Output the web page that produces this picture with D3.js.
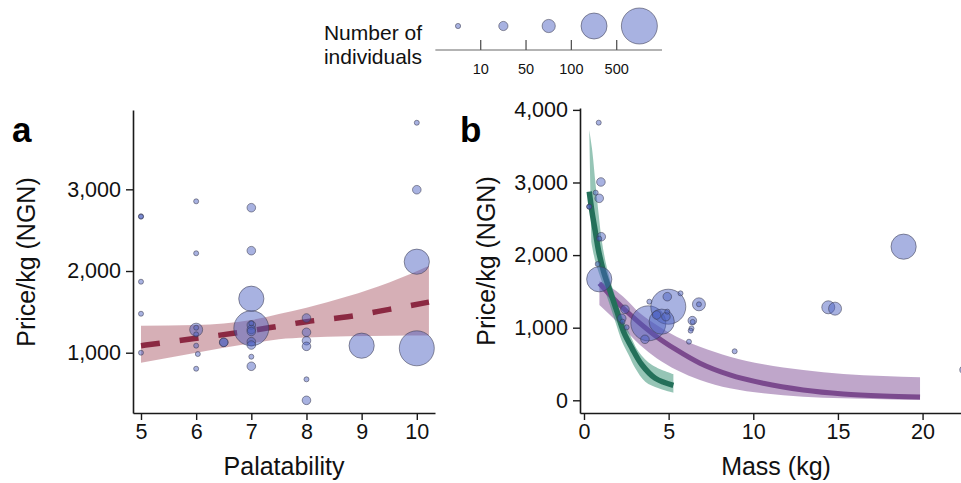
<!DOCTYPE html>
<html>
<head>
<meta charset="utf-8">
<script src="https://cdn.jsdelivr.net/npm/d3@7"></script>
<style>
  html, body { margin: 0; padding: 0; background: #fff; }
  svg { display: block; font-family: "Liberation Sans", Arial, Helvetica, sans-serif; }
</style>
</head>
<body>
<svg id="chart" width="961" height="483"></svg>
<script>
// ---------------- DATA ----------------
// Size classes (bins of number of individuals): 0 = <10, 1 = 10-50, 2 = 50-100, 3 = 100-500, 4 = >500
const legendBreaks = ["10", "50", "100", "500"];
const legendClasses = [0, 1, 2, 3, 4];

// Panel a: palatability vs price
const palX     = [5, 5, 5, 5, 5,
                  6, 6, 6, 6, 6, 6, 6.03, 6,
                  6.5, 6.5,
                  7, 7, 7, 7, 7, 7, 7, 7, 7, 7, 7, 7,
                  8, 8, 8, 8, 8, 8,
                  9,
                  10, 10, 10, 10];
const palPrice = [2670, 2665, 1869, 1477, 1000,
                  2853, 2217, 1282, 1306, 1225, 1086, 984, 804,
                  1127, 1127,
                  2775, 2249, 1661, 1299, 1360, 1339, 1285, 1260, 1135, 1094, 951, 834,
                  1425, 1250, 1147, 1078, 674, 417,
                  1086,
                  3815, 2995, 2114, 1054];
const palSize  = [0, 0, 0, 0, 0,
                  0, 0, 2, 0, 0, 0, 0, 0,
                  1, 1,
                  1, 1, 3, 4, 0, 1, 1, 1, 1, 1, 0, 1,
                  1, 1, 1, 1, 0, 1,
                  3,
                  0, 1, 3, 4];
const palFitX  = [5, 6, 7, 7.5, 8, 8.75, 9.5, 10.22];
const palFit   = [1086, 1176, 1270, 1325, 1380, 1441, 1530, 1620];
const palUpper = [1331, 1339, 1400, 1475, 1550, 1690, 1860, 2065];
const palLower = [878, 1000, 1115, 1165, 1185, 1200, 1207, 1210];
const palXTicks = [5, 6, 7, 8, 9, 10];
const palYTicks = [1000, 2000, 3000];

// Panel b: mass vs price
const massX     = [0.87, 1.0, 0.69, 0.9, 0.31, 0.31, 1.02, 0.9, 0.81, 0.9,
                   2.42, 2.23, 2.28, 2.52,
                   3.86, 3.8, 3.6,
                   4.98, 4.92, 5.7, 4.59, 4.29, 4.84, 4.92,
                   6.79, 6.79, 6.4, 6.42, 6.35, 6.3, 6.2,
                   8.9,
                   14.43, 14.83,
                   18.88,
                   22.45];
const massPrice = [3824, 3007, 2860, 2782, 2667, 2667, 2253, 2226, 1877, 1667,
                   1253, 1129, 1083, 1005,
                   1358, 1060, 840,
                   1289, 1427, 1473, 1083, 1175, 1152, 1221,
                   1322, 1322, 1097, 1080, 990, 959, 807,
                   675,
                   1281, 1262,
                   2116,
                   420];
const massSize  = [0, 1, 0, 1, 0, 0, 1, 0, 0, 3,
                   1, 1, 0, 0,
                   0, 4, 1,
                   4, 1, 0, 3, 1, 1, 0,
                   2, 0, 1, 0, 0, 0, 0,
                   0,
                   2, 2,
                   3,
                   1];
// green fit (steep) with its ribbon
const greenFitX   = [0.31, 0.47, 0.67, 0.87, 1.16, 1.55, 1.95, 2.34, 2.84, 3.43, 4.21, 5.28];
const greenFit    = [2873, 2598, 2323, 2048, 1771, 1496, 1220, 945, 716, 486, 303, 205];
const greenUpperX = [0.31, 0.47, 0.67, 0.87, 1.06, 1.36, 1.75, 2.14, 2.64, 3.23, 4.02, 5.28];
const greenUpper  = [3723, 3471, 3011, 2553, 2185, 1818, 1496, 1221, 945, 670, 486, 360];
const greenLowerX = [0.43, 0.67, 1.06, 1.46, 1.85, 2.25, 2.64, 3.03, 3.62, 4.41, 5.28];
const greenLower  = [2184, 1909, 1634, 1358, 1083, 808, 625, 441, 257, 165, 105];
// purple fit with its ribbon
const purpleX     = [0.91, 1.54, 2.32, 3.31, 4.29, 5.47, 6.85, 8.62, 10.59, 12.95, 15.32, 17.68, 19.85];
const purpleFit   = [1611, 1450, 1267, 1060, 876, 693, 510, 349, 234, 142, 87, 59, 45];
const purpleUpper = [1640, 1565, 1427, 1198, 1037, 876, 738, 601, 496, 417, 362, 335, 317];
const purpleLower = [1313, 1175, 992, 762, 579, 417, 280, 165, 96, 50, 28, 14, 4];
const massXTicks = [0, 5, 10, 15, 20];
const massYTicks = [0, 1000, 2000, 3000, 4000];

// ---------------- STYLE ----------------
const AXIS = "#1a1a1a";
const PT_FILL = "#4a5fc1", PT_OP = 0.48, PT_STROKE = "rgba(60,60,80,0.55)";
const fmt = d3.format(",");
const rScale = d3.scaleOrdinal().domain([0, 1, 2, 3, 4]).range([2.5, 4.3, 6.5, 12.6, 17.5]);
const TICK_FS = "21.5px";

const svg = d3.select("#chart");

function yAxisDraw(g, y, ticks, x0) {
  const ax = d3.axisLeft(y).tickValues(ticks).tickFormat(fmt).tickSize(7).tickPadding(5).tickSizeOuter(0);
  const gg = g.append("g").attr("transform", `translate(${x0},0)`).call(ax);
  gg.select(".domain").attr("stroke", AXIS).attr("stroke-width", 1.6);
  gg.selectAll(".tick line").attr("stroke", AXIS).attr("stroke-width", 1.4);
  gg.selectAll(".tick text").attr("fill", "#111").style("font-size", TICK_FS).style("font-family", "Liberation Sans, Arial, sans-serif");
  return gg;
}
function xAxisDraw(g, x, ticks, y0) {
  const ax = d3.axisBottom(x).tickValues(ticks).tickFormat(d3.format("d")).tickSize(7).tickPadding(4).tickSizeOuter(0);
  const gg = g.append("g").attr("transform", `translate(0,${y0})`).call(ax);
  gg.select(".domain").attr("stroke", AXIS).attr("stroke-width", 1.6);
  gg.selectAll(".tick line").attr("stroke", AXIS).attr("stroke-width", 1.4);
  gg.selectAll(".tick text").attr("fill", "#111").style("font-size", TICK_FS).style("font-family", "Liberation Sans, Arial, sans-serif");
  return gg;
}
function drawPoints(g, xs, ys, ss, x, y) {
  const pts = xs.map((v, i) => ({ x: v, y: ys[i], s: ss[i] }))
                .sort((a, b) => b.s - a.s);
  g.append("g").selectAll("circle").data(pts).join("circle")
    .attr("cx", d => x(d.x)).attr("cy", d => y(d.y)).attr("r", d => rScale(d.s))
    .attr("fill", PT_FILL).attr("fill-opacity", PT_OP)
    .attr("stroke", PT_STROKE).attr("stroke-width", 1);
}

// ---------------- PANEL A ----------------
const xa = d3.scaleLinear().domain([4.855, 10.33]).range([133, 435]);
const ya = d3.scaleLinear().domain([262, 3971]).range([413, 110]);
const ga = svg.append("g");

ga.append("path")
  .datum(palFitX.map((v, i) => ({ x: v, lo: palLower[i], hi: palUpper[i] })))
  .attr("d", d3.area().x(d => xa(d.x)).y0(d => ya(d.lo)).y1(d => ya(d.hi)).curve(d3.curveMonotoneX))
  .attr("fill", "#a44d5e").attr("fill-opacity", 0.45);
ga.append("path")
  .datum(palFitX.map((v, i) => ({ x: v, y: palFit[i] })))
  .attr("d", d3.line().x(d => xa(d.x)).y(d => ya(d.y)).curve(d3.curveMonotoneX))
  .attr("fill", "none").attr("stroke", "#8b2942").attr("stroke-width", 5.5)
  .attr("stroke-dasharray", "19,20");
drawPoints(ga, palX, palPrice, palSize, xa, ya);
yAxisDraw(ga, ya, palYTicks, 133);
xAxisDraw(ga, xa, palXTicks, 413);

ga.append("text").attr("x", 284).attr("y", 475).attr("text-anchor", "middle")
  .style("font-size", "25px").attr("fill", "#111").text("Palatability");
ga.append("text").attr("transform", "translate(35,262) rotate(-90)").attr("text-anchor", "middle")
  .style("font-size", "25px").attr("fill", "#111").text("Price/kg (NGN)");
ga.append("text").attr("x", 12).attr("y", 141.5).style("font-size", "35px").style("font-weight", "bold")
  .attr("fill", "#000").text("a");

// ---------------- PANEL B ----------------
const xb = d3.scaleLinear().domain([-0.236, 22.27]).range([580, 961]);
const yb = d3.scaleLinear().domain([-175, 4026]).range([413, 108]);
const gb = svg.append("g");

// purple ribbon
gb.append("path")
  .datum(purpleX.map((v, i) => ({ x: v, lo: purpleLower[i], hi: purpleUpper[i] })))
  .attr("d", d3.area().x(d => xb(d.x)).y0(d => yb(d.lo)).y1(d => yb(d.hi)).curve(d3.curveMonotoneX))
  .attr("fill", "#8a5c9e").attr("fill-opacity", 0.55);
// green ribbon (upper and lower edges read separately)
const lineB = d3.line().x(d => xb(d[0])).y(d => yb(d[1])).curve(d3.curveCatmullRom.alpha(0.5));
const gUp = greenUpperX.map((v, i) => [v, greenUpper[i]]);
const gLo = greenLowerX.map((v, i) => [v, greenLower[i]]).reverse();
gb.append("path")
  .attr("d", lineB(gUp) + "L" + lineB(gLo).slice(1) + "Z")
  .attr("fill", "#2e8b6e").attr("fill-opacity", 0.5);
gb.append("path")
  .datum(purpleX.map((v, i) => [v, purpleFit[i]]))
  .attr("d", d3.line().x(d => xb(d[0])).y(d => yb(d[1])).curve(d3.curveMonotoneX))
  .attr("fill", "none").attr("stroke", "#7b4a8e").attr("stroke-width", 5);
gb.append("path")
  .datum(greenFitX.map((v, i) => [v, greenFit[i]]))
  .attr("d", lineB)
  .attr("fill", "none").attr("stroke", "#24705a").attr("stroke-width", 5.5);

drawPoints(gb, massX, massPrice, massSize, xb, yb);
yAxisDraw(gb, yb, massYTicks, 580);
xAxisDraw(gb, xb, massXTicks, 413);

gb.append("text").attr("x", 776).attr("y", 475).attr("text-anchor", "middle")
  .style("font-size", "25px").attr("fill", "#111").text("Mass (kg)");
gb.append("text").attr("transform", "translate(495,261) rotate(-90)").attr("text-anchor", "middle")
  .style("font-size", "25px").attr("fill", "#111").text("Price/kg (NGN)");
gb.append("text").attr("x", 460).attr("y", 141.5).style("font-size", "35px").style("font-weight", "bold")
  .attr("fill", "#000").text("b");

// ---------------- LEGEND ----------------
const xl = d3.scaleLinear().domain([0, 3]).range([480.7, 616.7]);
const gl = svg.append("g");
gl.append("line").attr("x1", xl(-1)).attr("x2", xl(4)).attr("y1", 50).attr("y2", 50)
  .attr("stroke", "#9a9a9a").attr("stroke-width", 1.3);
gl.selectAll("line.tk").data(legendBreaks).join("line").attr("class", "tk")
  .attr("x1", (d, i) => xl(i)).attr("x2", (d, i) => xl(i)).attr("y1", 40).attr("y2", 50)
  .attr("stroke", "#555").attr("stroke-width", 1.3);
gl.selectAll("text.tl").data(legendBreaks).join("text").attr("class", "tl")
  .attr("x", (d, i) => xl(i)).attr("y", 74).attr("text-anchor", "middle")
  .style("font-size", "14.5px").attr("fill", "#111").text(d => d);
gl.selectAll("circle").data(legendClasses).join("circle")
  .attr("cx", (d, i) => xl(i - 0.5)).attr("cy", 26).attr("r", d => [2.6, 4.6, 6.6, 13, 18][d])
  .attr("fill", PT_FILL).attr("fill-opacity", PT_OP)
  .attr("stroke", PT_STROKE).attr("stroke-width", 1);
gl.append("text").attr("x", 422).attr("y", 39.5).attr("text-anchor", "end")
  .style("font-size", "21px").attr("fill", "#111").text("Number of");
gl.append("text").attr("x", 422).attr("y", 63.5).attr("text-anchor", "end")
  .style("font-size", "21px").attr("fill", "#111").text("individuals");
</script>
</body>
</html>
